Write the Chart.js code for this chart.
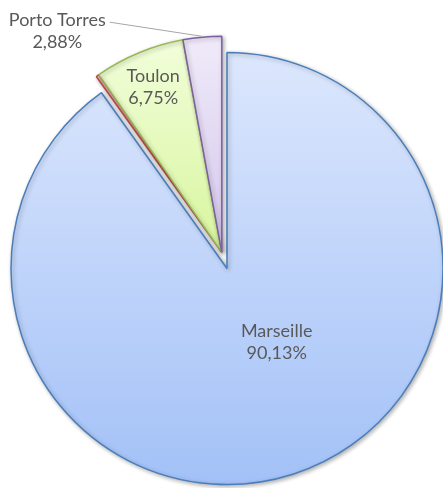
<!DOCTYPE html>
<html>
<head>
<meta charset="utf-8">
<script src="https://cdn.jsdelivr.net/npm/chart.js@4/dist/chart.umd.min.js"></script>
<style>
  html, body { margin: 0; padding: 0; background: #fff; }
  #wrap { width: 443px; height: 488px; position: relative; }
</style>
</head>
<body>
<div id="wrap"><canvas id="pie"></canvas></div>
<script>
// Ports share (%)
const ports = ['Marseille', 'Autres', 'Toulon', 'Porto Torres'];
const shares = [90.13, 0.24, 6.75, 2.88];
const showLabel = [true, false, true, true];

// styling
const RADIUS = 216;
const fills = [
  ['#dce7fd', '#a3c1f7'],
  ['#f4d0cf', '#e8a9a7'],
  ['#f0fdd6', '#d6f59a'],
  ['#eee8f8', '#d2c3eb']
];
const borders = ['#4a7ebb', '#be4b48', '#98b954', '#7d60a0'];
const exploded = [0, 17, 17, 17];
const labelColor = '#595959';
const labelFont = '18px Lato, "Open Sans", sans-serif';

function sliceGradient(c) {
  const area = c.chart.chartArea;
  const f = fills[c.dataIndex];
  if (!area) return f[0];
  const cy = (area.top + area.bottom) / 2;
  const bottom = c.dataIndex === 0 ? cy + RADIUS : cy;
  const g = c.chart.ctx.createLinearGradient(0, cy - RADIUS, 0, bottom);
  g.addColorStop(0, f[0]);
  g.addColorStop(1, f[1]);
  return g;
}

// move the small slices out together, along the bisector of their group
const explodePlugin = {
  id: 'explode',
  afterDatasetUpdate(chart, args) {
    const arcs = chart.getDatasetMeta(args.index).data;
    let start = null, end = null;
    arcs.forEach((a, i) => {
      if (!exploded[i]) return;
      if (start === null) start = a.startAngle;
      end = a.endAngle;
    });
    if (start === null) return;
    const mid = (start + end) / 2;
    arcs.forEach((a, i) => {
      if (!exploded[i]) return;
      a.x += Math.cos(mid) * exploded[i];
      a.y += Math.sin(mid) * exploded[i];
    });
  }
};

const shadowPlugin = {
  id: 'shadow',
  beforeDatasetsDraw(chart) {
    const ctx = chart.ctx;
    ctx.save();
    ctx.shadowColor = 'rgba(0,0,0,0.3)';
    ctx.shadowBlur = 4;
    ctx.shadowOffsetX = 1.5;
    ctx.shadowOffsetY = 1.5;
  },
  afterDatasetsDraw(chart) {
    chart.ctx.restore();
  }
};

function fmt(v) {
  return v.toFixed(2).replace('.', ',') + '%';
}

const labelPlugin = {
  id: 'sliceLabels',
  afterDatasetsDraw(chart) {
    const ctx = chart.ctx;
    const arcs = chart.getDatasetMeta(0).data;
    ctx.save();
    ctx.font = labelFont;
    ctx.fillStyle = labelColor;
    ctx.textAlign = 'center';
    ctx.textBaseline = 'middle';
    arcs.forEach((a, i) => {
      if (!showLabel[i]) return;
      const mid = (a.startAngle + a.endAngle) / 2;
      let lx, ly;
      if (i === 0) {
        lx = a.x + 0.23 * a.outerRadius;
        ly = a.y + 0.34 * a.outerRadius;
      } else if (shares[i] > 5) {
        lx = a.x + Math.cos(mid) * a.outerRadius * 0.83;
        ly = a.y + Math.sin(mid) * a.outerRadius * 0.83;
      } else {
        // outside label with leader line
        const ox = a.x + Math.cos(mid) * a.outerRadius;
        const oy = a.y + Math.sin(mid) * a.outerRadius;
        lx = ox - 145;
        ly = oy - 6;
        const w = ctx.measureText(ports[i]).width;
        ctx.save();
        ctx.strokeStyle = '#a6a6a6';
        ctx.lineWidth = 1;
        ctx.beginPath();
        ctx.moveTo(lx + w / 2 + 4, ly - 9);
        ctx.lineTo(ox - 1, oy - 1);
        ctx.stroke();
        ctx.restore();
      }
      ctx.fillText(ports[i], lx, ly - 11);
      ctx.fillText(fmt(shares[i]), lx, ly + 11);
    });
    ctx.restore();
  }
};

new Chart(document.getElementById('pie'), {
  type: 'pie',
  data: {
    labels: ports,
    datasets: [{
      data: shares,
      backgroundColor: sliceGradient,
      borderColor: borders,
      borderWidth: 1.5,
      radius: RADIUS
    }]
  },
  options: {
    responsive: true,
    maintainAspectRatio: false,
    animation: false,
    layout: { padding: { left: 11, right: 0, top: 49, bottom: 0 } },
    plugins: {
      legend: { display: false },
      tooltip: { enabled: false }
    }
  },
  plugins: [explodePlugin, shadowPlugin, labelPlugin]
});
</script>
</body>
</html>
